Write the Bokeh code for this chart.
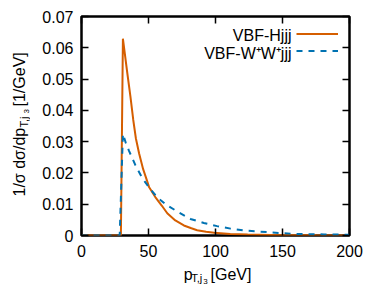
import math
from bokeh.plotting import figure
from bokeh.layouts import row, column
from bokeh.models import (Range1d, LinearAxis, FixedTicker, Label, Legend, LegendItem)
from bokeh.embed import file_html
from bokeh.resources import INLINE

# ---- data ----
h_pt = [0, 29.4, 30.9, 34.0, 36.5, 38.6, 40.6, 43.0, 46.0, 48.5, 50.5, 55.5, 60.0,
        64.0, 70.0, 76.4, 82.0, 86.3, 93.0, 99.0, 111.0, 124.0, 150.0, 175.0, 200.0]
h_val = [0, 0, 0.0629, 0.0525, 0.0445, 0.0370, 0.0310, 0.0262, 0.0212, 0.0180, 0.0154,
         0.0120, 0.0095, 0.0071, 0.0048, 0.0032, 0.0023, 0.0017, 0.0012, 0.0009,
         0.0005, 0.0003, 0.0001, 0.00005, 0.00003]

ww_pt = [0, 28.5, 30.9, 33.0, 35.3, 40.3, 45.3, 50.5, 56.5, 64.0, 72.6, 81.3, 91.3,
         101.2, 111.2, 121.1, 131.0, 141.0, 151.0, 161.0, 171.0, 181.0, 191.0, 200.0]
ww_val = [0, 0, 0.0325, 0.0297, 0.0272, 0.0224, 0.0184, 0.0153, 0.0122, 0.0096, 0.0074,
          0.0053, 0.0040, 0.0030, 0.0022, 0.0016, 0.0013, 0.0010, 0.0007, 0.0005,
          0.0004, 0.00035, 0.0003, 0.00025]

x_ticks = [0, 50, 100, 150, 200]
x_tick_labels = ["0", "50", "100", "150", "200"]
y_ticks = [0, 0.01, 0.02, 0.03, 0.04, 0.05, 0.06, 0.07]
y_tick_labels = ["0", "0.01", "0.02", "0.03", "0.04", "0.05", "0.06", "0.07"]

series_names = ["VBF-Hjjj", "VBF-W\u207aW\u207ajjj"]
colors = ["#D55E00", "#0072B2"]

# axis-title pieces (text, font size)
x_title = [("p", "16px"), ("T,j", "11px"), ("3", "8px"), ("[GeV]", "16px")]
y_title = [("1/\u03c3 d\u03c3/dp", "16px"), ("T,j", "11px"), ("3", "8px"), ("[1/GeV]", "16px")]

FONT = "Liberation Sans"
FS = "16px"

YW = 30          # width of the y-title strip
MAIN_H = 263     # height of the main figure
XH = 299 - MAIN_H
FRAME_LEFT = 81  # page x of the plot frame

p = figure(width=374 - YW, height=MAIN_H, output_backend="svg", toolbar_location=None,
           x_range=Range1d(0, 200), y_range=Range1d(0, 0.07),
           min_border_left=FRAME_LEFT - YW, min_border_right=25, min_border_top=16,
           min_border_bottom=MAIN_H - 235)
p.grid.visible = False
p.outline_line_color = "black"
p.outline_line_width = 2.5
p.background_fill_color = "white"
p.border_fill_color = "white"

def style_axis(ax, ticks, labels, show_labels, standoff):
    ax.ticker = FixedTicker(ticks=ticks)
    if show_labels:
        ax.major_label_overrides = {t: l for t, l in zip(ticks, labels)}
    else:
        ax.major_label_overrides = {t: "" for t in ticks}
    ax.axis_line_color = None
    ax.major_tick_in = 7
    ax.major_tick_out = 0
    ax.major_tick_line_width = 1.5
    ax.major_tick_line_color = "black"
    ax.minor_tick_line_color = None
    ax.major_label_text_font = FONT
    ax.major_label_text_color = "black"
    ax.major_label_text_font_size = FS
    ax.major_label_standoff = standoff

style_axis(p.xaxis[0], x_ticks, x_tick_labels, True, 9)
style_axis(p.yaxis[0], y_ticks, y_tick_labels, True, 8)

top_ax = LinearAxis()
style_axis(top_ax, x_ticks, x_tick_labels, False, 0)
p.add_layout(top_ax, "above")
right_ax = LinearAxis()
style_axis(right_ax, y_ticks, y_tick_labels, False, 0)
p.add_layout(right_ax, "right")

r_h = p.line(h_pt, h_val, line_color=colors[0], line_width=2)
r_ww = p.line(ww_pt, ww_val, line_color=colors[1], line_width=2, line_dash="6 6")

# legend: line samples on the right, texts placed to their left
legend = Legend(items=[LegendItem(label=" ", renderers=[r_h]),
                       LegendItem(label=" ", renderers=[r_ww])],
                location=(215, 176), glyph_width=42, glyph_height=17,
                label_height=17, label_width=1, label_standoff=0, spacing=0,
                padding=0, margin=0, border_line_color=None,
                background_fill_alpha=0, label_text_font_size="1px")
p.add_layout(legend)

for name, fy in zip(series_names, [200, 182]):
    p.add_layout(Label(x=210, y=fy, x_units="screen", y_units="screen", text=name,
                       text_align="right", text_baseline="alphabetic",
                       text_font=FONT, text_font_size=FS, text_color="black"))

def strip(w, h):
    f = figure(width=w, height=h, output_backend="svg", toolbar_location=None,
               x_range=Range1d(0, w), y_range=Range1d(0, h),
               x_axis_location=None, y_axis_location=None,
               min_border=0, min_border_left=0, min_border_right=0,
               min_border_top=0, min_border_bottom=0)
    f.grid.visible = False
    f.outline_line_color = None
    f.background_fill_color = "white"
    f.border_fill_color = "white"
    return f

# x title strip below the main figure (its frame lines up with the main frame)
xf = strip(374 - YW, XH)
x_pos = [(183.3, 274.3), (190.7, 277.7), (202.7, 281.0), (210.0, 274.3)]
for (t, fs), (px, py) in zip(x_title, x_pos):
    xf.add_layout(Label(x=px - FRAME_LEFT, y=299 - py, x_units="screen", y_units="screen",
                        text=t, text_align="left", text_baseline="alphabetic",
                        text_font=FONT, text_font_size=fs, text_color="black"))

# y title strip (left of everything), rotated text reading upwards
yf = strip(YW, 299)
y_pos = [(19, 196), (23, 127), (26, 113), (19, 106)]
for (t, fs), (px, py) in zip(y_title, y_pos):
    yf.add_layout(Label(x=px, y=299 - py, x_units="screen", y_units="screen", text=t,
                        angle=math.pi / 2, text_align="left", text_baseline="alphabetic",
                        text_font=FONT, text_font_size=fs, text_color="black"))

layout = row(yf, column(p, xf, spacing=0), spacing=0)
open("out.html", "w").write(file_html(layout, INLINE))
